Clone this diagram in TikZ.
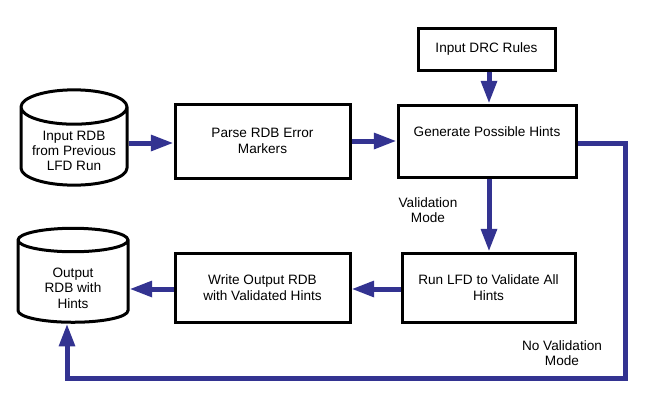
\documentclass[tikz,border=0pt]{standalone}
\usepackage{fontspec}
\setmainfont{Liberation Sans}
\usetikzlibrary{shapes.geometric,arrows.meta}
\definecolor{flowblue}{RGB}{51,51,145}
\tikzset{every picture/.style={line width=0.75pt}}
\tikzset{
  procbox/.style={draw=black,line width=2.25pt,fill=white,align=center,inner sep=0.75pt,font=\fontsize{10.2}{12.5}\selectfont},
  dbstore/.style={draw=black,line width=2.25pt,cylinder,shape border rotate=90,aspect=0.4,align=center,inner sep=0.75pt,font=\fontsize{10.2}{11.3}\selectfont},
  flow/.style={draw=flowblue,line width=3.75pt,-{Triangle[length=17pt,width=11.5pt]}},
  lbl/.style={align=center,inner sep=0.75pt,font=\fontsize{10.2}{11.5}\selectfont}
}

\begin{document}
\begin{tikzpicture}[x=0.75pt,y=0.75pt,yscale=-1,xscale=1]
\useasboundingbox (0,0) rectangle (650,400);
% Boxes
\node [procbox,minimum width=102.75pt,minimum height=31.5pt] (drc) at (486.5,49) {Input DRC Rules};
\node [procbox,minimum width=133.5pt,minimum height=54pt] (gen) at (487,141) {Generate Possible Hints\\[1.5pt]};
\node [procbox,minimum width=131.25pt,minimum height=55.5pt] (parse) at (262.5,141) {Parse RDB Error\\Markers};
\node [procbox,minimum width=129.75pt,minimum height=51.75pt] (run) at (488.5,287.5) {Run LFD to Validate All\\Hints};
\node [procbox,minimum width=131.25pt,minimum height=51.75pt] (write) at (262.5,287.5) {Write Output RDB\\with Validated Hints};
% Databases
\node [dbstore,minimum width=79.5pt,minimum height=69.75pt] (inrdb) at (74,148.5) {\rule{0pt}{10pt}Input RDB\\from Previous\\LFD Run};
\node [dbstore,minimum width=82.5pt,minimum height=70.5pt] (outrdb) at (73,283) {\rule{0pt}{15pt}Output\\RDB with\\Hints};
% Labels
\node [lbl] (valmode) at (428,210) {Validation\\Mode};
\node [lbl] (novalmode) at (562,353) {No Validation\\Mode};
% Connectors
\coordinate (c1) at (625,143);
\coordinate (c2) at (625,378);
\coordinate (c3) at (67,378);
\draw [flow] (drc.south -| 489,0) -- (gen.north -| 489,0);
\draw [flow] (inrdb.east |- 0,143) -- (parse.west |- 0,143);
\draw [flow] (parse.east |- 0,141) -- (gen.west |- 0,141);
\draw [flow] (gen.south -| 489,0) -- (run.north -| 489,0);
\draw [flow] (run.west |- 0,289) -- (write.east |- 0,289);
\draw [flow] (write.west |- 0,289) -- (outrdb.east |- 0,289);
\draw [flow] (gen.east |- c1) -- (c1) -- (c2) -- (c3) -- (c3 |- outrdb.south);
\end{tikzpicture}
\end{document}
